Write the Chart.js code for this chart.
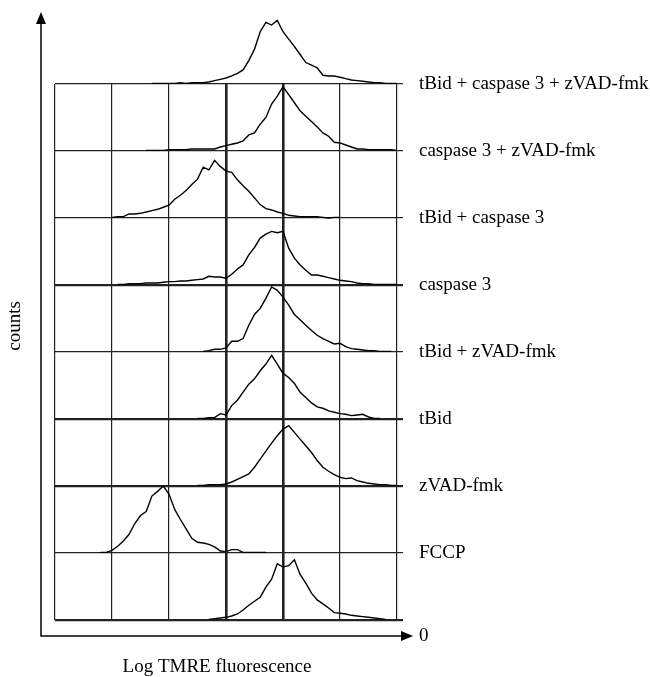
<!DOCTYPE html>
<html>
<head>
<meta charset="utf-8">
<script src="https://cdn.jsdelivr.net/npm/chart.js@4/dist/chart.umd.min.js"></script>
<style>
  html, body { margin: 0; padding: 0; background: #fff; }
</style>
</head>
<body>
<canvas id="myHistChart" width="650" height="677"></canvas>
<script>
// row labels, bottom to top
var labels = [
    "0",
    "FCCP",
    "zVAD-fmk",
    "tBid",
    "tBid + zVAD-fmk",
    "caspase 3",
    "tBid + caspase 3",
    "caspase 3 + zVAD-fmk",
    "tBid + caspase 3 + zVAD-fmk"
];

// first channel of each trace (same order as labels)
var startChannel = [27, 8, 25, 25, 26, 11, 10, 16, 17];

// counts per channel, % of one row height
var countsControl = [1,2,3,4,6,9,15,22,28,34,49,61,84,79,81,90,68,55,40,30,24,18,11,10,9,7,6,5,4,3,2,1];
var countsFCCP = [1,1,4,10,18,28,44,56,62,85,92,100,88,65,50,36,22,16,15,13,9,3,2,5,5,1,1,1,1,1];
var countsZVAD = [1,1,2,2,2,3,6,10,14,18,28,40,52,64,75,85,90,80,70,60,50,38,28,22,17,13,11,12,8,6,4,3,2,2,1,1];
var countsTBid = [1,1,2,2,8,6,20,28,40,52,60,72,82,95,82,68,62,53,40,32,24,18,16,12,10,8,7,5,6,7,3,1,1];
var countsTBidZVAD = [1,2,4,4,6,16,16,20,40,56,65,80,97,92,82,70,56,48,40,32,25,20,16,12,13,8,5,4,3,2,2,1,1,1];
var countsCasp3 = [1,1,2,2,2,3,3,3,4,5,5,6,6,7,8,9,13,12,12,10,16,24,30,45,56,70,76,80,78,80,55,40,30,22,15,15,13,11,9,7,6,5,3,2,2,1,1,1,1,1];
var countsTBidCasp3 = [1,2,2,6,6,7,9,11,13,16,19,28,34,41,50,58,76,72,86,77,70,68,57,48,40,30,20,14,12,9,7,4,3,2,2,2,2,1,0,1,1];
var countsCasp3ZVAD = [1,1,1,1,2,2,2,2,3,3,3,3,3,6,8,10,12,15,24,27,40,50,70,82,96,84,72,60,52,44,36,27,22,13,12,9,6,3,3,2,2,2,2,2,1];
var countsAll = [1,1,1,1,1,2,1,2,2,2,3,5,7,9,12,16,21,35,52,78,92,88,95,78,67,56,44,32,28,24,13,12,12,10,8,6,5,4,3,2,2,1,1,1,1];

var allCounts = [countsControl, countsFCCP, countsZVAD, countsTBid, countsTBidZVAD,
                 countsCasp3, countsTBidCasp3, countsCasp3ZVAD, countsAll];

// x grid (log decades) and which grid lines are drawn heavy
var xGridTicks = [0, 10, 20, 30, 40, 50, 60];
var heavyX = [30, 40];
var heavyRows = [0, 2, 3, 5];

var rowHeight = 100;

var datasets = allCounts.map(function (counts, row) {
    return {
        label: labels[row],
        data: counts.map(function (c, i) {
            return { x: startChannel[row] + i, y: row * rowHeight + c };
        }),
        borderColor: "#000",
        borderWidth: 1.4,
        pointRadius: 0,
        fill: false,
        tension: 0,
        clip: false
    };
});

var axisArrows = {
    id: "axisArrows",
    afterDraw: function (chart) {
        var c = chart.ctx;
        var area = chart.chartArea;
        var ox = area.left - 14;
        var oy = area.bottom + 16;
        var topY = 12;
        var rightX = 413;
        c.save();
        c.strokeStyle = "#000";
        c.fillStyle = "#000";
        c.lineWidth = 1.5;
        c.beginPath();
        c.moveTo(ox, topY + 8);
        c.lineTo(ox, oy);
        c.lineTo(rightX - 10, oy);
        c.stroke();
        c.beginPath();
        c.moveTo(ox, topY);
        c.lineTo(ox - 5, topY + 12);
        c.lineTo(ox + 5, topY + 12);
        c.closePath();
        c.fill();
        c.beginPath();
        c.moveTo(rightX, oy);
        c.lineTo(rightX - 12, oy - 5);
        c.lineTo(rightX - 12, oy + 5);
        c.closePath();
        c.fill();

        c.font = "19px 'Liberation Serif'";
        c.textBaseline = "middle";
        c.textAlign = "left";
        c.fillText(labels[0], 419, oy);

        c.textAlign = "center";
        c.fillText("Log TMRE fluorescence", 217, 667);

        c.translate(15, 326);
        c.rotate(-Math.PI / 2);
        c.fillText("counts", 0, 0);
        c.restore();
    }
};

var ctx = document.getElementById("myHistChart");
var myHistChart = new Chart(ctx, {
    type: "line",
    data: { datasets: datasets },
    options: {
        responsive: false,
        animation: false,
        layout: { padding: { left: 55, top: 84, right: 0, bottom: 0 } },
        plugins: {
            legend: { display: false },
            tooltip: { enabled: false }
        },
        scales: {
            x: {
                type: "linear",
                min: 0,
                max: 60,
                afterBuildTicks: function (scale) {
                    scale.ticks = xGridTicks.map(function (v) { return { value: v }; });
                },
                afterFit: function (scale) { scale.height = 57; },
                ticks: { display: false },
                border: { display: false },
                grid: {
                    color: "#222",
                    drawTicks: false,
                    lineWidth: function (context) {
                        return heavyX.indexOf(context.tick.value) >= 0 ? 2.6 : 1.2;
                    }
                }
            },
            y: {
                position: "right",
                min: 0,
                max: 800,
                afterFit: function (scale) { scale.width = 253; },
                ticks: {
                    stepSize: 100,
                    padding: 16,
                    color: "#000",
                    font: { family: "Liberation Serif", size: 19 },
                    callback: function (value) {
                        var i = Math.round(value / rowHeight);
                        return i === 0 ? "" : labels[i];
                    }
                },
                border: { display: false },
                grid: {
                    color: "#222",
                    tickLength: 6,
                    lineWidth: function (context) {
                        var i = Math.round(context.tick.value / rowHeight);
                        return heavyRows.indexOf(i) >= 0 ? 2.2 : 1.2;
                    }
                }
            }
        }
    },
    plugins: [axisArrows]
});
</script>
</body>
</html>
